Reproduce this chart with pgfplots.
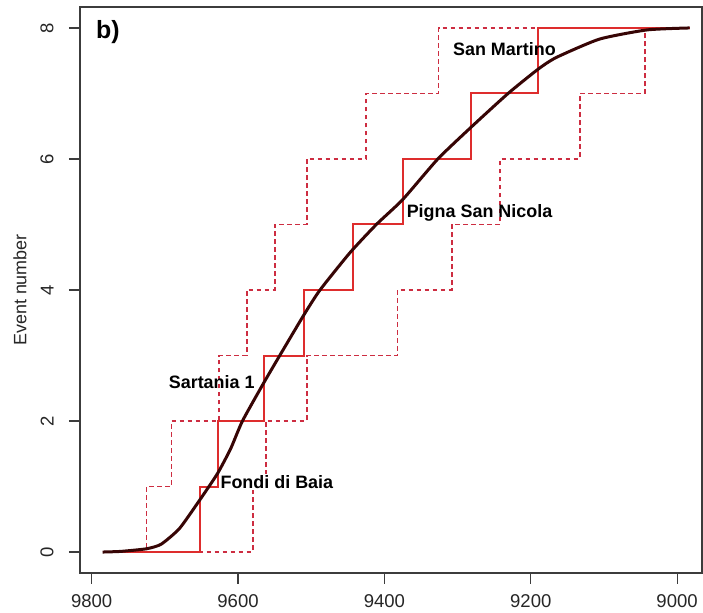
\documentclass[border=0pt]{standalone}
\usepackage{fontspec}
\setmainfont{Liberation Sans}
\usepackage{pgfplots}
\pgfplotsset{compat=1.18}

\definecolor{medred}{RGB}{222,45,45}
\definecolor{bandred}{RGB}{205,45,65}
\definecolor{curve}{RGB}{55,5,5}
\definecolor{frame}{RGB}{60,60,60}

\begin{document}
\begin{tikzpicture}
\begin{axis}[
    at={(0,0)}, anchor=south west,
    scale only axis,
    width=311bp, height=283bp,
    x dir=reverse,
    xmin=8966, xmax=9816,
    ymin=-0.32, ymax=8.32,
    xtick={9000,9200,9400,9600,9800},
    ytick={0,2,4,6,8},
    /pgf/number format/assume math mode=true,
    /pgf/number format/set thousands separator={},
    tick align=outside,
    tick pos=left,
    major tick length=5.5bp,
    tick style={frame, line width=0.6bp},
    axis line style={frame, line width=0.6bp},
    ticklabel style={font=\fontsize{9.3}{10}\selectfont, text=black!85},
    yticklabel style={rotate=90, anchor=south, inner sep=0pt, yshift=7.5bp},
    xticklabel style={anchor=north, inner sep=0pt, yshift=-5bp},
    ylabel={Event number},
    ylabel style={at={(axis description cs:-0.0965,0.5)}, anchor=center, font=\fontsize{9}{10}\selectfont, text=black!85},
    clip=false,
]
% upper bound (dashed)
\addplot[const plot, bandred, line width=0.9bp, dash pattern=on 2.4bp off 1.6bp]
  coordinates {(9785,0) (9725,1) (9691,2) (9626,3) (9588,4) (9550,5) (9506,6) (9425,7) (9326,8) (8983,8)};
% lower bound (dashed)
\addplot[const plot, bandred, line width=0.9bp, dash pattern=on 2.4bp off 1.6bp]
  coordinates {(9785,0) (9580,1) (9562,2) (9506,3) (9382,4) (9308,5) (9242,6) (9133,7) (9044,8) (8983,8)};
% median steps
\addplot[const plot, medred, line width=1bp]
  coordinates {(9785,0) (9652,1) (9628,2) (9565,3) (9510,4) (9443,5) (9375,6) (9282,7) (9190,8) (8983,8)};
% cumulative curve
\addplot[curve, line width=1.5bp, smooth, tension=0.35]
  coordinates {(9785,0) (9760,0.01) (9725,0.05) (9705,0.12) (9680,0.36) (9652,0.8)
    (9628,1.2) (9610,1.58) (9594,2.0) (9565,2.58) (9543,3.0) (9510,3.62) (9488,4.0)
    (9447,4.57) (9411,5.0) (9375,5.38) (9327,6.0) (9282,6.48) (9231,7.0) (9190,7.37)
    (9165,7.55) (9106,7.83) (9041,7.97) (8983,8.0)};
\draw[frame, line width=0.6bp] (rel axis cs:0,0) rectangle (rel axis cs:1,1);
\node[font=\fontsize{12.5}{14}\bfseries] at (axis cs:9778,7.94) {b)};
\node[font=\fontsize{9}{10}\bfseries] at (axis cs:9236,7.68) {San Martino};
\node[font=\fontsize{9}{10}\bfseries] at (axis cs:9270,5.18) {Pigna San Nicola};
\node[font=\fontsize{9}{10}\bfseries] at (axis cs:9636,2.6) {Sartania 1};
\node[font=\fontsize{9}{10}\bfseries, fill=white, inner sep=0.5bp] at (axis cs:9547,1.07) {Fondi di Baia};
\end{axis}
\pgfresetboundingbox
\path (-40bp,-20bp) rectangle (311.5bp,286.5bp);
\end{tikzpicture}
\end{document}
